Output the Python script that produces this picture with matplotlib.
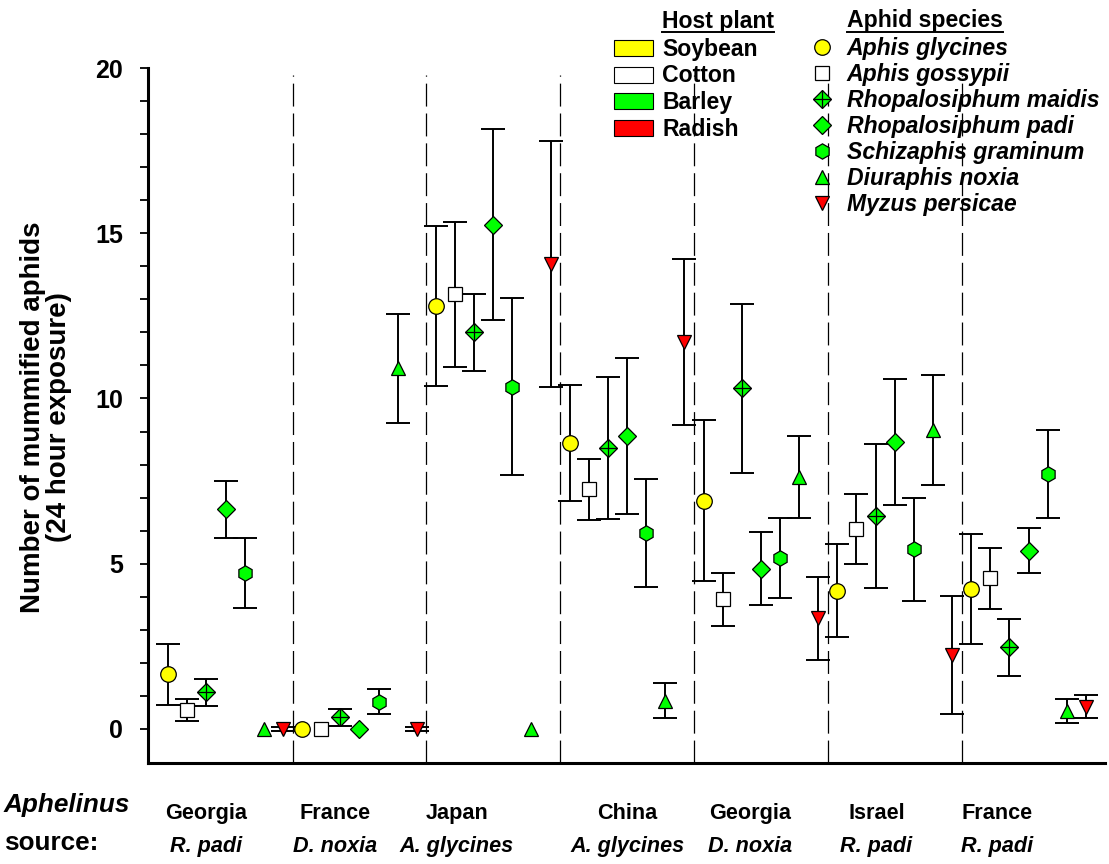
import numpy as np
import matplotlib.pyplot as plt
import matplotlib.transforms as mtransforms
from matplotlib.patches import Rectangle
from matplotlib.lines import Line2D

plt.rcParams['font.family'] = ['Liberation Sans', 'DejaVu Sans']
plt.rcParams['font.weight'] = 'bold'
plt.rcParams['lines.scale_dashes'] = False

# Aphelinus sources (groups along the x axis)
source_place = ['Georgia', 'France', 'Japan', 'China', 'Georgia', 'Israel', 'France']
source_host = ['R. padi', 'D. noxia', 'A. glycines', 'A. glycines', 'D. noxia', 'R. padi', 'R. padi']

# aphid species (points inside each group)
species = ['Aphis glycines', 'Aphis gossypii', 'Rhopalosiphum maidis',
           'Rhopalosiphum padi', 'Schizaphis graminum', 'Diuraphis noxia',
           'Myzus persicae']

# mean number of mummies, one row per source, columns follow species
georgia_rp = [1.66, 0.57, 1.11, 6.65, 4.73, 0.00, 0.00]
france_dn = [0.00, 0.00, 0.35, 0.00, 0.83, 10.92, 0.00]
japan_ag = [12.80, 13.15, 12.00, 15.26, 10.36, 0.00, 14.07]
china_ag = [8.66, 7.25, 8.50, 8.87, 5.93, 0.85, 11.71]
georgia_dn = [6.91, 3.92, 10.31, 4.85, 5.18, 7.63, 3.35]
israel_rp = [4.19, 6.06, 6.44, 8.68, 5.44, 9.04, 2.23]
france_rp = [4.24, 4.56, 2.47, 5.40, 7.72, 0.54, 0.68]

# standard errors
georgia_rp_se = [0.92, 0.33, 0.40, 0.86, 1.06, 0.00, 0.05]
france_dn_se = [0.00, 0.00, 0.26, 0.00, 0.37, 1.65, 0.05]
japan_ag_se = [2.42, 2.20, 1.16, 2.90, 2.67, 0.00, 3.73]
china_ag_se = [1.76, 0.93, 2.16, 2.36, 1.62, 0.53, 2.50]
georgia_dn_se = [2.43, 0.79, 2.55, 1.11, 1.21, 1.25, 1.25]
israel_rp_se = [1.42, 1.06, 2.17, 1.91, 1.56, 1.66, 1.79]
france_rp_se = [1.67, 0.93, 0.87, 0.69, 1.33, 0.36, 0.35]

host_plants = ['Soybean', 'Cotton', 'Barley', 'Radish']
host_colors = ['#ffff00', '#ffffff', '#00ff00', '#ff0000']

means = np.array([georgia_rp, france_dn, japan_ag, china_ag, georgia_dn, israel_rp, france_rp])
errs = np.array([georgia_rp_se, france_dn_se, japan_ag_se, china_ag_se,
                 georgia_dn_se, israel_rp_se, france_rp_se])

# marker style per species
sp_marker = ['o', 's', 'D', 'D', 'h', '^', 'v']
sp_size = [11.2, 9.6, 9.0, 9.0, 11, 10.2, 10.2]
sp_color = ['#ffff00', '#ffffff', '#00ff00', '#00ff00', '#00ff00', '#00ff00', '#ff0000']

W, H = 1109, 864
fig = plt.figure(figsize=(W / 100, H / 100), dpi=100)
ax = fig.add_axes([148 / W, 1 - 762.7 / H, (1105 - 148) / W, (762.7 - 68) / H])

n_src, n_sp = means.shape
xpos = np.arange(n_src)[:, None] * n_sp + np.arange(n_sp)[None, :]

# dashed separators between sources
for g in range(1, n_src):
    ax.plot([g * n_sp - 0.5] * 2, [-1.02, 19.8], color='black', lw=0.9,
            dashes=(16.5, 5), zorder=1)

for s in range(n_sp):
    x = xpos[:, s]
    m = means[:, s]
    e = errs[:, s]
    ok = e > 0
    ax.errorbar(x[ok], m[ok], yerr=e[ok], fmt='none', ecolor='black',
                elinewidth=1.4, capsize=8.4, capthick=1.4, zorder=2)
    ax.plot(x, m, ls='none', marker=sp_marker[s], ms=sp_size[s],
            mfc=sp_color[s], mec='black', mew=0.9, zorder=3)
    if s == 2:
        ax.plot(x, m, ls='none', marker='+', ms=sp_size[s] * 1.41,
                mec='black', mew=0.9, zorder=4)

ax.set_xlim(-1.06, 49.0)
ax.set_ylim(-1.02, 20)
ax.set_xticks([])
ax.set_yticks([0, 5, 10, 15, 20])
ax.set_yticks([v for v in range(1, 20) if v % 5], minor=True)
ax.tick_params(axis='y', which='both', direction='out', length=6, width=1.3,
               labelsize=18, pad=12)
for lab in ax.get_yticklabels():
    lab.set_fontweight('bold')
for side in ['top', 'right']:
    ax.spines[side].set_visible(False)
for side in ['left', 'bottom']:
    ax.spines[side].set_linewidth(2.2)

fig.text(46 / W, 1 - 417 / H, 'Number of mummified aphids\n(24 hour exposure)',
         rotation=90, ha='center', va='center', fontsize=20, linespacing=1.0)

# x axis group labels
label_x = [2.0, 8.7, 15.1, 24.0, 30.45, 37.05, 43.36]
trans = mtransforms.blended_transform_factory(ax.transData, fig.transFigure)
for g in range(n_src):
    ax.text(label_x[g], 1 - 819.3 / H, source_place[g], transform=trans,
            ha='center', va='baseline', fontsize=15.6)
    ax.text(label_x[g], 1 - 851.7 / H, source_host[g], transform=trans,
            ha='center', va='baseline', fontsize=15.6, style='italic')
fig.text(4 / W, 1 - 812 / H, 'Aphelinus', fontsize=18.8, style='italic', va='baseline')
fig.text(4 / W, 1 - 850 / H, 'source:', fontsize=18.8, va='baseline')

# legends
t1 = fig.text(662 / W, 1 - 28.3 / H, 'Host plant', fontsize=16.6, va='baseline')
for i, (name, col) in enumerate(zip(host_plants, host_colors)):
    cy = 48 + 26.5 * i
    fig.add_artist(Rectangle((614.3 / W, 1 - (cy + 8) / H), 39 / W, 16 / H,
                             transform=fig.transFigure, fc=col, ec='black', lw=0.8))
    fig.text(662 / W, 1 - (cy + 8) / H, name, fontsize=16.6, va='baseline')

t2 = fig.text(846.7 / W, 1 - 27.5 / H, 'Aphid species', fontsize=16.6, va='baseline')
for i, name in enumerate(species):
    cy = 47 + 26 * i
    fig.add_artist(Line2D([822.3 / W], [1 - cy / H], transform=fig.transFigure,
                          ls='none', marker=sp_marker[i], ms=sp_size[i],
                          mfc=sp_color[i], mec='black', mew=0.9))
    if i == 2:
        fig.add_artist(Line2D([822.3 / W], [1 - cy / H], transform=fig.transFigure,
                              ls='none', marker='+', ms=sp_size[i] * 1.41,
                              mec='black', mew=0.9))
    fig.text(846.7 / W, 1 - (cy + 8) / H, name, fontsize=16.6, va='baseline',
             style='italic')

# underline the legend titles
fig.canvas.draw()
r = fig.canvas.get_renderer()
for t in (t1, t2):
    bb = t.get_window_extent(r).transformed(fig.transFigure.inverted())
    fig.add_artist(Line2D([bb.x0, bb.x1], [1 - 32 / H] * 2,
                          transform=fig.transFigure, color='black', lw=1.4))

fig.savefig('out.png', dpi=100)
plt.close(fig)
